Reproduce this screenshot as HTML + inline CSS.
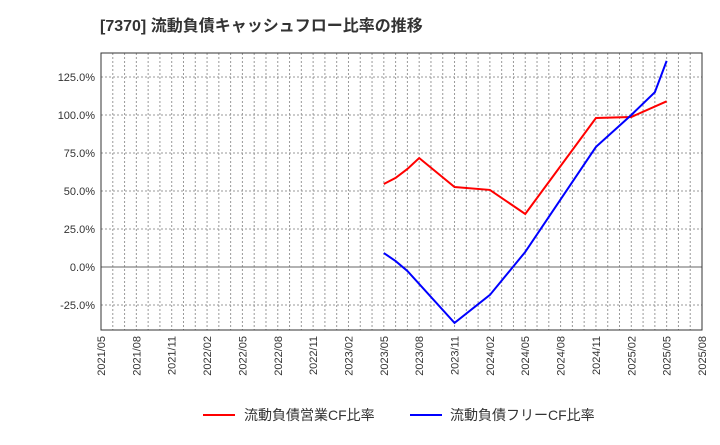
<!DOCTYPE html>
<html><head><meta charset="utf-8"><style>
body{margin:0;background:#fff;}
svg text{font-family:"Liberation Sans","Noto Sans CJK JP",sans-serif;}
</style></head><body>
<svg id="c" width="720" height="440" xmlns="http://www.w3.org/2000/svg">
<text x="100" y="31" font-size="16" font-weight="bold" fill="#333">[7370]  流動負債キャッシュフロー比率の推移</text>
<g id="grid"></g><g id="lines"></g><g id="axes"></g>
<g>
<line x1="203" y1="415" x2="235" y2="415" stroke="#f00" stroke-width="2"/>
<text x="244" y="420" font-size="14" fill="#333">流動負債営業CF比率</text>
<line x1="410" y1="415" x2="442" y2="415" stroke="#00f" stroke-width="2"/>
<text x="450" y="420" font-size="14" fill="#333">流動負債フリーCF比率</text>
</g>
</svg>
<script>
const xTickLabels=["2021/05","2021/08","2021/11","2022/02","2022/05","2022/08","2022/11","2023/02","2023/05","2023/08","2023/11","2024/02","2024/05","2024/08","2024/11","2025/02","2025/05","2025/08"];
const yTicks=[-25,0,25,50,75,100,125];
// month index from 2021/05
const redMonths=[24,25,26,27,30,33,36,42,45,48];
const redValues=[54.6,58.6,64.5,71.7,52.6,50.7,34.9,98,98.7,109];
const blueMonths=[24,25,26,30,33,36,42,45,47,48];
const blueValues=[9.2,3.9,-2.6,-36.8,-18.4,9.9,79,100,115,135.6];
const L=101,R=702,T=53,B=330,NM=51;
const X=m=>L+(R-L)*m/NM;
const Y=v=>267-v*38/25;
const NS="http://www.w3.org/2000/svg";
function mk(tag,attrs,parent){const e=document.createElementNS(NS,tag);for(const k in attrs)e.setAttribute(k,attrs[k]);document.getElementById(parent).appendChild(e);return e;}
for(let m=1;m<NM;m++){const g=mk("line",{x1:X(m),x2:X(m),y1:T,y2:B,stroke:"#999","stroke-dasharray":"2,2","stroke-width":1},"grid");

}
yTicks.forEach(v=>{const g=mk("line",{x1:L,x2:R,y1:Y(v),y2:Y(v),stroke:v===0?"#666":"#999","stroke-dasharray":v===0?"":"2,2","stroke-width":1},"grid");


const t=mk("text",{x:L-6,y:Y(v)+4,"text-anchor":"end","font-size":"11",fill:"#333"},"axes");t.textContent=v.toFixed(1)+"%";

});
xTickLabels.forEach((s,i)=>{const x=X(i*3);const t=mk("text",{x:x+4,y:B+6,"text-anchor":"end","font-size":"11",fill:"#333",transform:`rotate(-90 ${x+4} ${B+6})`},"axes");t.textContent=s;

});
const fr=mk("rect",{x:L,y:T,width:R-L,height:B-T,fill:"none",stroke:"#333","stroke-width":1},"axes");


const r=mk("polyline",{points:redMonths.map((m,i)=>X(m)+","+Y(redValues[i])).join(" "),fill:"none",stroke:"#f00","stroke-width":2},"lines");


const b=mk("polyline",{points:blueMonths.map((m,i)=>X(m)+","+Y(blueValues[i])).join(" "),fill:"none",stroke:"#00f","stroke-width":2},"lines");


</script>
</body></html>
